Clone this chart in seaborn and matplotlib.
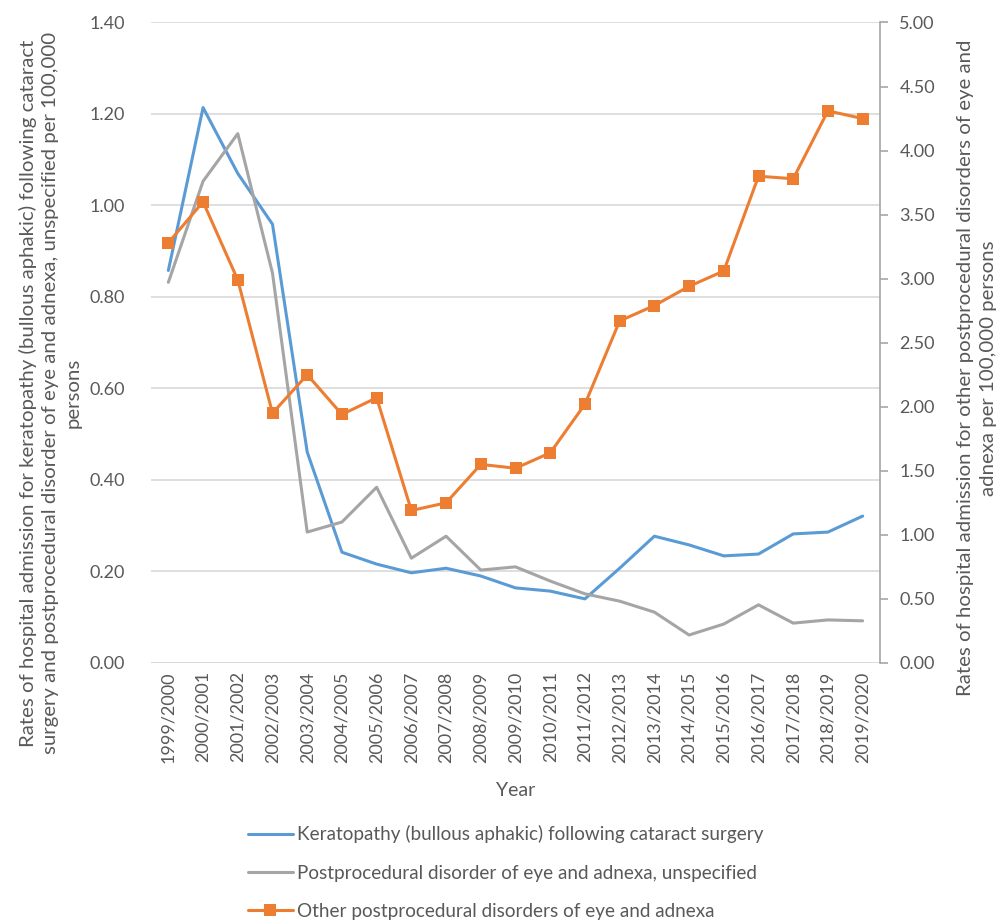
import matplotlib
matplotlib.use("Agg")
import matplotlib.pyplot as plt
import pandas as pd
import seaborn as sns

years = ["1999/2000", "2000/2001", "2001/2002", "2002/2003", "2003/2004", "2004/2005",
         "2005/2006", "2006/2007", "2007/2008", "2008/2009", "2009/2010", "2010/2011",
         "2011/2012", "2012/2013", "2013/2014", "2014/2015", "2015/2016", "2016/2017",
         "2017/2018", "2018/2019", "2019/2020"]

keratopathy = [0.858, 1.214, 1.070, 0.959, 0.461, 0.242, 0.216, 0.197, 0.207, 0.190, 0.164,
               0.157, 0.140, 0.207, 0.277, 0.258, 0.234, 0.238, 0.282, 0.286, 0.321]
unspecified = [0.832, 1.053, 1.157, 0.852, 0.286, 0.308, 0.384, 0.229, 0.277, 0.203, 0.210,
               0.179, 0.151, 0.135, 0.111, 0.061, 0.085, 0.127, 0.087, 0.094, 0.092]
other = [3.28, 3.60, 2.99, 1.95, 2.25, 1.94, 2.07, 1.19, 1.25, 1.55, 1.52,
         1.64, 2.02, 2.67, 2.79, 2.94, 3.06, 3.80, 3.78, 4.31, 4.25]

lbl_ker = "Keratopathy (bullous aphakic) following cataract surgery"
lbl_uns = "Postprocedural disorder of eye and adnexa, unspecified"
lbl_oth = "Other postprocedural disorders of eye and adnexa"

df = pd.DataFrame({"pos": range(len(years)), "Year": years,
                   "ker": keratopathy, "uns": unspecified, "oth": other})

sns.set_style("white")
plt.rcParams["font.family"] = ["Lato", "DejaVu Sans"]
txt = "#595959"
grid = "#D9D9D9"

fig = plt.figure(figsize=(10, 9.22), dpi=100)
ax = fig.add_axes([0.151, 0.281, 0.729, 0.6946])
ax2 = ax.twinx()

sns.lineplot(data=df, x="pos", y="ker", ax=ax, color="#5B9BD5", linewidth=2.2,
             label=lbl_ker, legend=False)
sns.lineplot(data=df, x="pos", y="uns", ax=ax, color="#A5A5A5", linewidth=2.2,
             label=lbl_uns, legend=False)
sns.lineplot(data=df, x="pos", y="oth", ax=ax2, color="#ED7D31", linewidth=2.2,
             marker="s", markersize=8, markeredgewidth=0, label=lbl_oth, legend=False)

ax.set_xlim(-0.5, len(years) - 0.5)
ax.set_ylim(0, 1.4)
ax2.set_ylim(0, 5.0)
ax.set_yticks([i * 0.2 for i in range(8)])
ax.set_yticklabels([f"{i * 0.2:.2f}" for i in range(8)])
ax2.set_yticks([i * 0.5 for i in range(11)])
ax2.set_yticklabels([f"{i * 0.5:.2f}" for i in range(11)])
ax.set_xticks(range(len(years)))
ax.set_xticklabels(years, rotation=90)

ax.grid(axis="y", color=grid, linewidth=1.2)
ax.set_axisbelow(True)
for a in (ax, ax2):
    for s in ("left", "top", "right", "bottom"):
        a.spines[s].set_visible(False)
ax.axhline(0, color=grid, linewidth=1.2, zorder=0)
ax2.spines["right"].set_visible(True)
ax2.spines["right"].set_color("#A6A6A6")
ax2.spines["right"].set_linewidth(1.2)

ax.tick_params(axis="y", length=0, pad=19, labelsize=13, labelcolor=txt)
ax.tick_params(axis="x", length=0, pad=6, labelsize=13, labelcolor=txt)
ax2.tick_params(axis="y", length=6, width=1.2, color="#A6A6A6", pad=8,
                labelsize=13, labelcolor=txt)

ax.set_xlabel("Year", fontsize=14, color=txt, labelpad=14)
ax.set_ylabel("")
ax2.set_ylabel("")
fig.text(0.050, 1 - 393 / 922,
         "Rates of hospital admission for keratopathy (bullous aphakic) following cataract\n"
         "surgery and postprocedural disorder of eye and adnexa, unspecified per 100,000\n"
         "persons", rotation=90, ha="center", va="center", multialignment="center",
         fontsize=14.7, color=txt, linespacing=1.38)
fig.text(0.977, 1 - 368 / 922,
         "Rates of hospital admission for other postprocedural disorders of eye and\n"
         "adnexa per 100,000 persons", rotation=90, ha="center", va="center",
         multialignment="center", fontsize=14.7, color=txt, linespacing=1.38)

h1, l1 = ax.get_legend_handles_labels()
h2, l2 = ax2.get_legend_handles_labels()
fig.legend(h1 + h2, l1 + l2, loc="upper left", bbox_to_anchor=(0.24, 0.113),
           frameon=False, fontsize=13.6, labelcolor=txt, handlelength=2.4,
           handletextpad=0.2, labelspacing=1.12, borderaxespad=0)

fig.savefig("out.png", dpi=100)
